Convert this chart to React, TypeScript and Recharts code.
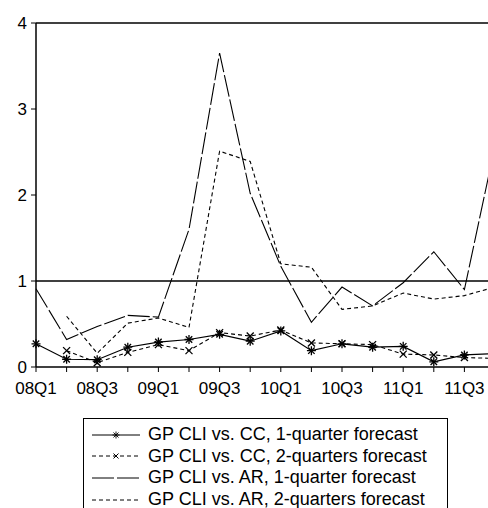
import { Legend, Line, LineChart, ReferenceLine, XAxis, YAxis } from 'recharts';

const quarters = [
  '08Q1', '08Q2', '08Q3', '08Q4', '09Q1', '09Q2', '09Q3', '09Q4',
  '10Q1', '10Q2', '10Q3', '10Q4', '11Q1', '11Q2', '11Q3', '11Q4',
];
const ccOneQuarter = [0.27, 0.09, 0.085, 0.23, 0.29, 0.32, 0.38, 0.3, 0.42, 0.19, 0.27, 0.23, 0.24, 0.06, 0.14, 0.155];
const ccTwoQuarters = [null, 0.19, 0.05, 0.17, 0.26, 0.19, 0.4, 0.36, 0.43, 0.28, 0.27, 0.26, 0.15, 0.14, 0.11, 0.1];
const arOneQuarter = [0.91, 0.32, 0.47, 0.6, 0.58, 1.6, 3.65, 2.02, 1.17, 0.52, 0.93, 0.71, 0.98, 1.34, 0.9, 2.57];
const arTwoQuarters = [null, 0.59, 0.16, 0.51, 0.57, 0.46, 2.51, 2.39, 1.2, 1.16, 0.67, 0.71, 0.86, 0.79, 0.83, 0.93];
const yTicks = [0, 1, 2, 3, 4];

const seriesNames = [
  'GP CLI vs. CC, 1-quarter forecast',
  'GP CLI vs. CC, 2-quarters forecast',
  'GP CLI vs. AR, 1-quarter forecast',
  'GP CLI vs. AR, 2-quarters forecast',
];

const rows = quarters.map((q, i) => ({
  q,
  cc1: ccOneQuarter[i],
  cc2: ccTwoQuarters[i],
  ar1: arOneQuarter[i],
  ar2: arTwoQuarters[i],
}));

const INK = '#000';
const FONT = '"Liberation Sans", Arial, Helvetica, sans-serif';

function Asterisk({ cx, cy, r = 4.5, w = 1.3 }: { cx?: number; cy?: number; r?: number; w?: number }) {
  if (cx == null || cy == null) return null;
  const d = r * 0.72;
  return (
    <g stroke={INK} strokeWidth={w}>
      <line x1={cx - r} y1={cy} x2={cx + r} y2={cy} />
      <line x1={cx} y1={cy - r} x2={cx} y2={cy + r} />
      <line x1={cx - d} y1={cy - d} x2={cx + d} y2={cy + d} />
      <line x1={cx - d} y1={cy + d} x2={cx + d} y2={cy - d} />
    </g>
  );
}

function Cross({ cx, cy, r = 3.5, w = 1.3 }: { cx?: number; cy?: number; r?: number; w?: number }) {
  if (cx == null || cy == null) return null;
  return (
    <g stroke={INK} strokeWidth={w}>
      <line x1={cx - r} y1={cy - r} x2={cx + r} y2={cy + r} />
      <line x1={cx - r} y1={cy + r} x2={cx + r} y2={cy - r} />
    </g>
  );
}

// labels on every other quarter, tick marks on all of them
function QuarterTick({ x, y, payload, index }: any) {
  if (index % 2 !== 0) return null;
  return (
    <text x={x} y={y} dy="0.71em" textAnchor="middle" fontSize={17} fill={INK}>
      {payload.value}
    </text>
  );
}

const samples = [
  { dash: undefined, marker: 'asterisk' },
  { dash: '4 3', marker: 'cross' },
  { dash: '22 3', marker: null },
  { dash: '4 3', marker: null },
];

function LegendBox() {
  return (
    <div
      style={{
        border: `1px solid ${INK}`,
        height: 100,
        boxSizing: 'border-box',
        paddingTop: 5,
        fontFamily: FONT,
        fontSize: 18,
        color: INK,
      }}
    >
      {seriesNames.map((name, i) => (
        <div key={name} style={{ display: 'flex', alignItems: 'center', height: 21.6, whiteSpace: 'nowrap' }}>
          <svg width={64} height={14} style={{ flex: 'none' }}>
            <line x1={8} y1={7} x2={56} y2={7} stroke={INK} strokeWidth={1} strokeDasharray={samples[i].dash} />
            {samples[i].marker === 'asterisk' && <Asterisk cx={32} cy={7} r={3.5} w={0.9} />}
            {samples[i].marker === 'cross' && <Cross cx={32} cy={7} r={2.5} w={1} />}
          </svg>
          <span>{name}</span>
        </div>
      ))}
    </div>
  );
}

export default function App() {
  return (
    <div
      style={{
        position: 'absolute',
        left: 0,
        top: 0,
        width: 488,
        height: 508,
        overflow: 'hidden',
        background: '#fff',
        fontFamily: FONT,
      }}
    >
      <LineChart width={530} height={508} data={rows} margin={{ top: 23, right: 35, left: 0, bottom: 111 }}>
        <XAxis
          dataKey="q"
          interval={0}
          tick={<QuarterTick />}
          tickSize={5}
          tickMargin={10}
          height={30}
          stroke={INK}
          strokeWidth={1.5}
          tickLine={{ stroke: INK, strokeWidth: 1 }}
        />
        <YAxis
          domain={[0, 4]}
          ticks={yTicks}
          width={36}
          tickSize={5}
          tickMargin={4}
          stroke={INK}
          strokeWidth={1.5}
          tick={{ fontSize: 17, fill: INK }}
          tickLine={{ stroke: INK, strokeWidth: 1 }}
          allowDataOverflow
        />
        <ReferenceLine y={4} stroke={INK} strokeWidth={1.5} />
        <ReferenceLine y={1} stroke={INK} strokeWidth={1.5} />
        <Line dataKey="ar1" stroke={INK} strokeWidth={1.1} strokeDasharray="22 3" dot={false} isAnimationActive={false} />
        <Line dataKey="ar2" stroke={INK} strokeWidth={1.1} strokeDasharray="4 3" dot={false} isAnimationActive={false} />
        <Line
          dataKey="cc2"
          stroke={INK}
          strokeWidth={1.1}
          strokeDasharray="4 3"
          dot={(p: any) => <Cross key={`x${p.index}`} cx={p.cx} cy={p.cy} />}
          isAnimationActive={false}
        />
        <Line
          dataKey="cc1"
          stroke={INK}
          strokeWidth={1.2}
          dot={(p: any) => <Asterisk key={`a${p.index}`} cx={p.cx} cy={p.cy} />}
          isAnimationActive={false}
        />
        <Legend
          layout="horizontal"
          verticalAlign="middle"
          align="center"
          wrapperStyle={{ left: 83, top: 418, width: 365 }}
          content={() => <LegendBox />}
        />
      </LineChart>
    </div>
  );
}
